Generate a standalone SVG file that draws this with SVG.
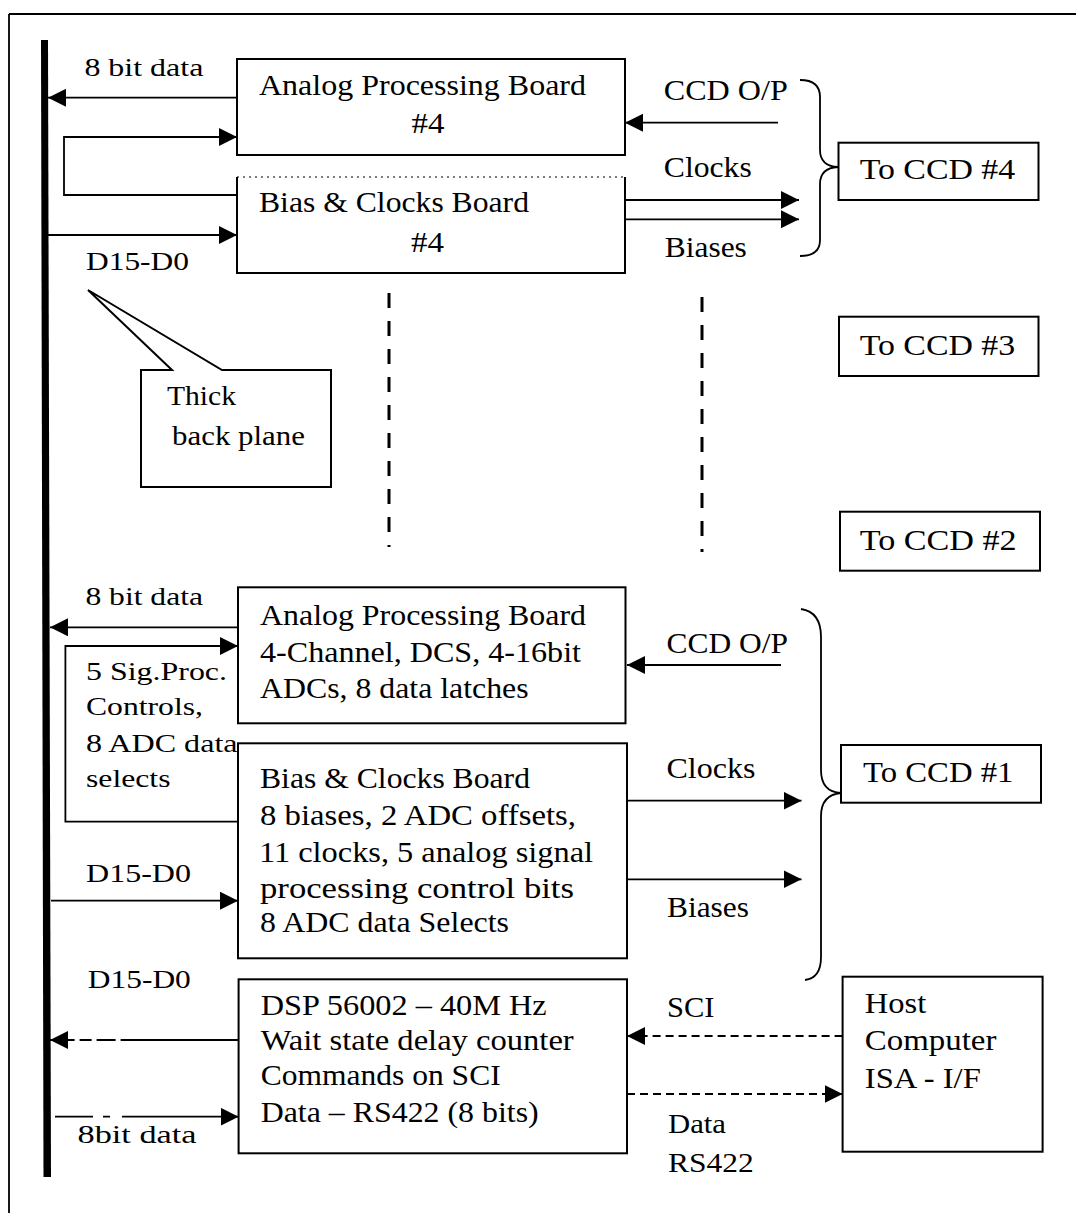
<svg xmlns="http://www.w3.org/2000/svg" width="1076" height="1213" viewBox="0 0 1076 1213">
<style>
text{font-family:"Liberation Serif","Times New Roman",serif;fill:#000}
.b{font-size:30px}
.s{font-size:26px}
.box{fill:#fff;stroke:#000;stroke-width:2}
.ln{fill:none;stroke:#000;stroke-width:1.8}
.dsh{fill:none;stroke:#000;stroke-width:1.8;stroke-dasharray:8,5}
.dv{fill:none;stroke:#000;stroke-width:3;stroke-dasharray:15,13}
</style>
<defs>
<marker id="ah" markerUnits="userSpaceOnUse" markerWidth="20" markerHeight="20" refX="18" refY="9" orient="auto">
<path d="M0,0 L18,9 L0,18 Z" fill="#000"/>
</marker>
</defs>
<rect width="1076" height="1213" fill="#fff"/>
<g id="frame">
<path class="ln" d="M9,14 L1076,14 M9,14 L9,1213" stroke-width="1.5"/>
</g>
<g id="backplane">
<polygon points="41,40 48,40 51,1177 43.5,1177" fill="#000"/>
</g>
<g id="connectors">
<path class="ln" d="M237,97.7 L48,97.7" marker-end="url(#ah)"/>
<path class="ln" d="M237,195 L64,195 L64,137 L237,137" marker-end="url(#ah)"/>
<path class="ln" d="M48,235 L237,235" marker-end="url(#ah)"/>
<path class="ln" d="M778,122.7 L625,122.7" marker-end="url(#ah)"/>
<path class="ln" d="M625,200 L799,200" marker-end="url(#ah)"/>
<path class="ln" d="M625,219.3 L799,219.3" marker-end="url(#ah)"/>
<path class="ln" d="M238,627.3 L50,627.3" marker-end="url(#ah)"/>
<path class="ln" d="M238,821.7 L65.4,821.7 L65.4,646 L238,646" marker-end="url(#ah)"/>
<path class="ln" d="M51,900.7 L238,900.7" marker-end="url(#ah)"/>
<path class="ln" d="M781,665 L627,665" marker-end="url(#ah)"/>
<path class="ln" d="M627,800.7 L801.5,800.7" marker-end="url(#ah)"/>
<path class="ln" d="M627,879.3 L801.5,879.3" marker-end="url(#ah)"/>
<path class="ln" d="M238.6,1040 L50,1040" stroke-dasharray="118,5,19,5,12,5,8,6" marker-end="url(#ah)"/>
<path class="ln" d="M55,1116.7 L238.6,1116.7" stroke-dasharray="38,10,7,12,200" marker-end="url(#ah)"/>
<path class="dsh" d="M842.6,1036 L627,1036" marker-end="url(#ah)"/>
<path class="dsh" d="M627,1094 L842.6,1094" marker-end="url(#ah)"/>
<path class="ln" d="M800,80 Q820,80 820,97 L820,150 Q820,166 838,167 Q820,168 820,184 L820,240 Q820,256 800,256"/>
<path class="ln" d="M801,609 Q821,612 821,637 L821,770 Q821,792 841,793 Q821,795 821,816 L821,957 Q821,978 805,980"/>
<path class="dv" d="M389,293 L389,547"/>
<path class="dv" d="M702,297 L702,552"/>
</g>
<g id="apb4">
<rect class="box" x="237" y="59" width="388" height="96"/>
<text class="b" x="259" y="95" textLength="327" lengthAdjust="spacingAndGlyphs">Analog Processing Board</text>
<text class="b" x="411.5" y="133" textLength="33" lengthAdjust="spacingAndGlyphs">#4</text>
</g>
<g id="bias4">
<path fill="#fff" stroke="#000" stroke-width="2" d="M237,177 L237,273 L625,273 L625,177"/>
<path fill="none" stroke="#000" stroke-width="1.2" stroke-dasharray="2,4" d="M237,177 L625,177"/>
<text class="b" x="259" y="211.7" textLength="270" lengthAdjust="spacingAndGlyphs">Bias &amp; Clocks Board</text>
<text class="b" x="411" y="251.7" textLength="33" lengthAdjust="spacingAndGlyphs">#4</text>
</g>
<g id="labels-top">
<text class="s" x="84.4" y="76" textLength="119" lengthAdjust="spacingAndGlyphs">8 bit data</text>
<text class="s" x="86" y="270" textLength="103" lengthAdjust="spacingAndGlyphs">D15-D0</text>
<text class="b" x="663.8" y="100" textLength="124" lengthAdjust="spacingAndGlyphs">CCD O/P</text>
<text class="b" x="663.8" y="176.7" textLength="88" lengthAdjust="spacingAndGlyphs">Clocks</text>
<text class="b" x="664.8" y="256.7" textLength="82" lengthAdjust="spacingAndGlyphs">Biases</text>
</g>
<g id="ccd4">
<rect class="box" x="838.5" y="142.7" width="200" height="57.3"/>
<text class="b" x="859.7" y="179.3" textLength="155.5" lengthAdjust="spacingAndGlyphs">To CCD #4</text>
</g>
<g id="callout">
<path class="box" d="M141,370 L172,370 L88,290 L222,370 L331,370 L331,487 L141,487 Z"/>
<text class="s" x="167" y="405" textLength="69" lengthAdjust="spacingAndGlyphs" style="font-size:28px">Thick</text>
<text class="s" x="172" y="445" textLength="133" lengthAdjust="spacingAndGlyphs" style="font-size:28px">back plane</text>
</g>
<g id="ccd3">
<rect class="box" x="839" y="316.7" width="199.5" height="59.3"/>
<text class="b" x="859.7" y="355" textLength="155.5" lengthAdjust="spacingAndGlyphs">To CCD #3</text>
</g>
<g id="ccd2">
<rect class="box" x="840" y="511.7" width="200" height="59"/>
<text class="b" x="859.7" y="550" textLength="157" lengthAdjust="spacingAndGlyphs">To CCD #2</text>
</g>
<g id="apb1">
<rect class="box" x="238" y="587.3" width="387.5" height="136"/>
<text class="b" x="260" y="625" textLength="326" lengthAdjust="spacingAndGlyphs">Analog Processing Board</text>
<text class="b" x="260" y="661.7" textLength="321" lengthAdjust="spacingAndGlyphs">4-Channel, DCS, 4-16bit</text>
<text class="b" x="260" y="698.3" textLength="268.6" lengthAdjust="spacingAndGlyphs">ADCs, 8 data latches</text>
</g>
<g id="bias1">
<rect class="box" x="238" y="743.3" width="389" height="215"/>
<text class="b" x="260" y="788.3" textLength="270" lengthAdjust="spacingAndGlyphs">Bias &amp; Clocks Board</text>
<text class="b" x="260" y="825" textLength="316" lengthAdjust="spacingAndGlyphs">8 biases, 2 ADC offsets,</text>
<text class="b" x="259" y="861.7" textLength="334" lengthAdjust="spacingAndGlyphs">11 clocks, 5 analog signal</text>
<text class="b" x="260" y="898.3" textLength="314" lengthAdjust="spacingAndGlyphs">processing control bits</text>
<text class="b" x="260" y="931.7" textLength="249" lengthAdjust="spacingAndGlyphs">8 ADC data Selects</text>
</g>
<g id="labels-mid">
<text class="s" x="85.4" y="605" textLength="117.6" lengthAdjust="spacingAndGlyphs">8 bit data</text>
<text class="s" x="86" y="680" textLength="141" lengthAdjust="spacingAndGlyphs">5 Sig.Proc.</text>
<text class="s" x="86" y="715" textLength="117" lengthAdjust="spacingAndGlyphs">Controls,</text>
<text class="s" x="86" y="751.7" textLength="151.6" lengthAdjust="spacingAndGlyphs">8 ADC data</text>
<text class="s" x="86" y="787.3" textLength="84.5" lengthAdjust="spacingAndGlyphs">selects</text>
<text class="s" x="86" y="881.7" textLength="105" lengthAdjust="spacingAndGlyphs">D15-D0</text>
<text class="b" x="666.5" y="653.3" textLength="121.4" lengthAdjust="spacingAndGlyphs">CCD O/P</text>
<text class="b" x="666.5" y="778.3" textLength="89" lengthAdjust="spacingAndGlyphs">Clocks</text>
<text class="b" x="667" y="916.7" textLength="82" lengthAdjust="spacingAndGlyphs">Biases</text>
</g>
<g id="ccd1">
<rect class="box" x="841" y="745" width="200" height="57.7"/>
<text class="b" x="863" y="781.7" textLength="150.5" lengthAdjust="spacingAndGlyphs">To CCD #1</text>
</g>
<g id="dsp">
<rect class="box" x="238.6" y="979.3" width="388.4" height="174"/>
<text class="b" x="260.7" y="1015" textLength="286" lengthAdjust="spacingAndGlyphs">DSP 56002 – 40M Hz</text>
<text class="b" x="260.7" y="1050" textLength="313" lengthAdjust="spacingAndGlyphs">Wait state delay counter</text>
<text class="b" x="260.7" y="1085" textLength="240" lengthAdjust="spacingAndGlyphs">Commands on SCI</text>
<text class="b" x="260.7" y="1121.7" textLength="278" lengthAdjust="spacingAndGlyphs">Data – RS422 (8 bits)</text>
</g>
<g id="labels-bottom">
<text class="s" x="87.8" y="988.3" textLength="103" lengthAdjust="spacingAndGlyphs">D15-D0</text>
<text class="s" x="77.5" y="1143.3" textLength="119" lengthAdjust="spacingAndGlyphs">8bit data</text>
<text class="b" x="667" y="1016.7" textLength="47.4" lengthAdjust="spacingAndGlyphs">SCI</text>
<text class="b" x="668" y="1133.3" textLength="58" lengthAdjust="spacingAndGlyphs" style="font-size:28px">Data</text>
<text class="b" x="668" y="1171.7" textLength="85.7" lengthAdjust="spacingAndGlyphs" style="font-size:28px">RS422</text>
</g>
<g id="host">
<rect class="box" x="842.6" y="976.7" width="200" height="175"/>
<text class="b" x="864.8" y="1013.3" textLength="61.5" lengthAdjust="spacingAndGlyphs">Host</text>
<text class="b" x="864.8" y="1050" textLength="131.6" lengthAdjust="spacingAndGlyphs">Computer</text>
<text class="b" x="864.8" y="1088.3" textLength="116" lengthAdjust="spacingAndGlyphs">ISA - I/F</text>
</g>
</svg>
